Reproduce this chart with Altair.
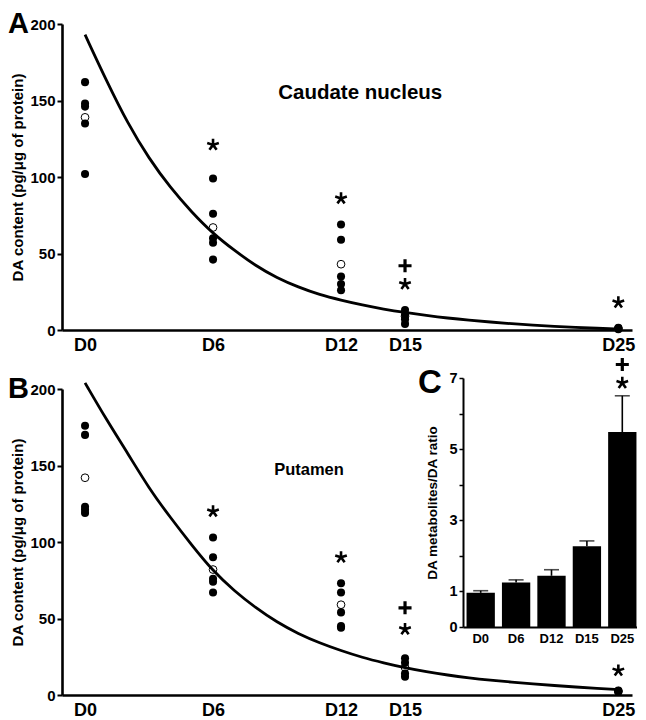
import altair as alt
import pandas as pd

FONT = "Liberation Sans"

# ---------------- data ----------------
DAYS = [0, 6, 12, 15, 25]
DAY_LABELS = ["D0", "D6", "D12", "D15", "D25"]

# Panel A - caudate nucleus (filled = individual animals, open = mean)
CAU_D0 = [162, 148, 146, 135, 102]
CAU_D6 = [99, 76, 60, 57, 46]
CAU_D12 = [69, 59, 35, 30, 26]
CAU_D15 = [13, 10, 7, 4]
CAU_D25 = [1.5, 1.0, 0.5]
CAU_MEAN = [139, 67, 43, 9, 1]
CAU_FIT_DAYS = list(range(26))
CAU_FIT = [193, 163, 135, 112, 93, 77, 63, 52, 42, 34, 28, 23, 19.5, 16.3,
           13.6, 11.4, 9.5, 7.8, 6.4, 5.2, 4.1, 3.2, 2.4, 1.7, 1.1, 0.7]
CAU_STAR_DAYS = [6, 12, 15, 25]
CAU_STAR_VALUES = [121, 86, 30, 18]
CAU_PLUS_DAYS = [15]
CAU_PLUS_VALUES = [42]

# Panel B - putamen
PUT_D0 = [176, 170, 123, 121, 119]
PUT_D6 = [103, 90, 76, 74, 67]
PUT_D12 = [73, 67, 54, 45, 44]
PUT_D15 = [24, 21, 14, 12]
PUT_D25 = [3, 2, 2.5]
PUT_MEAN = [142, 82, 59, 18, 2.5]
PUT_FIT_DAYS = list(range(26))
PUT_FIT = [204, 180, 158, 135, 116, 98, 81, 68, 57, 47.5, 40, 34, 29, 24.5,
           21, 17.8, 15.2, 13, 11.2, 9.7, 8.4, 7.2, 6.2, 5.2, 4.3, 3.5]
PUT_STAR_DAYS = [6, 12, 15, 25]
PUT_STAR_VALUES = [120, 90, 43, 16]
PUT_PLUS_DAYS = [15]
PUT_PLUS_VALUES = [57]

# Panel C - DA metabolites / DA ratio
RATIO_MEAN = [0.96, 1.25, 1.44, 2.27, 5.48]
RATIO_SEM = [0.06, 0.075, 0.17, 0.15, 1.02]
RATIO_STAR = [6.86]
RATIO_PLUS = [7.38]

ASTERISK = ("M0,0L0,-1M0,0L0.95,-0.31M0,0L0.59,0.81"
            "M0,0L-0.59,0.81M0,0L-0.95,-0.31")
PLUS = "M-1,0L1,0M0,-1L0,1"


def points_frame(groups):
    rows = []
    for d, vals in zip(DAYS, groups):
        for v in vals:
            rows.append({"day": d, "value": v})
    return pd.DataFrame(rows)


X_DOMAIN = [-1.08, 25.64]
W, H = 570, 306


def panel(groups, means, fit_days, fit, star_d, star_v, plus_d, plus_v,
          label_rows):
    xs = alt.Scale(domain=X_DOMAIN, nice=False, zero=False)
    ys = alt.Scale(domain=[0, 200], nice=False)
    xaxis = alt.Axis(values=DAYS, labelExpr="'D' + datum.value", ticks=False,
                     grid=False, domainWidth=2.6, domainColor="black",
                     labelFont=FONT, labelFontSize=18, labelFontWeight="bold",
                     labelColor="black", labelPadding=6, title=None)
    yaxis = alt.Axis(values=[0, 50, 100, 150, 200], grid=False,
                     domainWidth=2.6, domainColor="black", tickColor="black",
                     tickWidth=2, tickSize=5, labelFont=FONT,
                     labelFontSize=15, labelFontWeight="bold",
                     labelColor="black", labelPadding=2,
                     title="DA content (pg/μg of protein)", titleFont=FONT,
                     titleFontSize=15, titleFontWeight="bold",
                     titleColor="black", titlePadding=4)
    X = alt.X("day:Q", scale=xs, axis=xaxis)
    Y = alt.Y("value:Q", scale=ys, axis=yaxis)

    means_df = pd.DataFrame({"day": DAYS, "value": means})
    open_pts = alt.Chart(means_df).mark_point(
        shape="circle", filled=True, fill="white", stroke="black",
        strokeWidth=1, size=60, opacity=1).encode(x=X, y=Y)
    filled_pts = alt.Chart(points_frame(groups)).mark_point(
        shape="circle", filled=True, color="black", size=65,
        opacity=1).encode(x=X, y=Y)
    curve = alt.Chart(pd.DataFrame({"day": fit_days, "value": fit})).mark_line(
        color="black", strokeWidth=2.8, interpolate="basis").encode(x=X, y=Y)
    stars = alt.Chart(pd.DataFrame({"day": star_d, "value": star_v})).mark_point(
        shape=ASTERISK, filled=False, stroke="black", strokeWidth=2.6,
        size=150, opacity=1).encode(x=X, y=Y)
    plus = alt.Chart(pd.DataFrame({"day": plus_d, "value": plus_v})).mark_point(
        shape=PLUS, filled=False, stroke="black", strokeWidth=3.2, size=170,
        opacity=1).encode(x=X, y=Y)
    layers = [open_pts, filled_pts, curve, stars, plus]
    for txt, d, v, fs in label_rows:
        layers.append(
            alt.Chart(pd.DataFrame({"day": [d], "value": [v], "t": [txt]}))
            .mark_text(font=FONT, fontSize=fs, fontWeight="bold",
                       color="black", align="center", baseline="middle")
            .encode(x=X, y=Y, text="t:N"))
    return alt.layer(*layers)


panel_a = panel([CAU_D0, CAU_D6, CAU_D12, CAU_D15, CAU_D25], CAU_MEAN,
                CAU_FIT_DAYS, CAU_FIT, CAU_STAR_DAYS, CAU_STAR_VALUES,
                CAU_PLUS_DAYS, CAU_PLUS_VALUES,
                [("A", -3.12, 200, 29), ("Caudate nucleus", 12.9, 155, 20.5)]
                ).properties(width=W, height=H)

panel_b = panel([PUT_D0, PUT_D6, PUT_D12, PUT_D15, PUT_D25], PUT_MEAN,
                PUT_FIT_DAYS, PUT_FIT, PUT_STAR_DAYS, PUT_STAR_VALUES,
                PUT_PLUS_DAYS, PUT_PLUS_VALUES,
                [("B", -3.12, 200, 29), ("Putamen", 10.5, 147, 16.5),
                 ("C", 16.17, 204, 33)])

# ---- panel C (inset) ----
ratio_df = pd.DataFrame({"day": DAY_LABELS, "ratio": RATIO_MEAN,
                         "hi": [m + s for m, s in zip(RATIO_MEAN, RATIO_SEM)]})
cx = alt.Scale(domain=DAY_LABELS, range=[401, 578], paddingInner=0.2,
               paddingOuter=0.1)
cy = alt.Scale(domain=[0, 7], range=[238, -11], nice=False)
cxaxis = alt.Axis(orient="bottom", offset=-68, ticks=False, grid=False,
                  domainWidth=2, domainColor="black", labelFont=FONT,
                  labelFontSize=13, labelFontWeight="bold", labelColor="black",
                  labelPadding=5, labelAngle=0, title=None)
cyaxis = alt.Axis(orient="left", offset=-401, values=list(range(8)),
                  labelExpr="indexof([0,1,3,5,7], datum.value) >= 0 ? datum.label : ''",
                  grid=False, domainWidth=2, domainColor="black",
                  tickColor="black", tickWidth=1.5, tickSize=4,
                  labelFont=FONT, labelFontSize=14.5, labelFontWeight="bold",
                  labelColor="black", labelPadding=2,
                  title="DA metabolites/DA ratio", titleFont=FONT,
                  titleFontSize=13.5, titleFontWeight="bold",
                  titleColor="black", titlePadding=9)
CX = alt.X("day:N", sort=DAY_LABELS, scale=cx, axis=cxaxis)
CY = alt.Y("ratio:Q", scale=cy, axis=cyaxis)
CY_HI = alt.Y("hi:Q", scale=cy, axis=cyaxis)

bars = alt.Chart(ratio_df).mark_bar(color="black").encode(x=CX, y=CY)
err = alt.Chart(ratio_df).mark_rule(color="black", strokeWidth=1.6).encode(
    x=CX, y=CY, y2="hi:Q")
cap = alt.Chart(ratio_df).mark_tick(color="black", thickness=1.6,
                                    size=15).encode(x=CX, y=CY_HI)
c_star = alt.Chart(pd.DataFrame({"day": ["D25"], "ratio": RATIO_STAR})).mark_point(
    shape=ASTERISK, filled=False, stroke="black", strokeWidth=2.6, size=150,
    opacity=1).encode(x=CX, y=CY)
c_plus = alt.Chart(pd.DataFrame({"day": ["D25"], "ratio": RATIO_PLUS})).mark_point(
    shape=PLUS, filled=False, stroke="black", strokeWidth=3.2, size=170,
    opacity=1).encode(x=CX, y=CY)
panel_c = alt.layer(bars, err, cap, c_star, c_plus)

panel_bc = alt.layer(panel_b, panel_c).resolve_scale(
    x="independent", y="independent").properties(width=W, height=H)

chart = alt.vconcat(panel_a, panel_bc, spacing=59, bounds="flush").configure_view(
    stroke=None).properties(
    padding={"left": 0, "top": 2, "right": 0, "bottom": 0},
    background="white")

chart.save("out.html", embed_options={"renderer": "svg", "actions": False})
